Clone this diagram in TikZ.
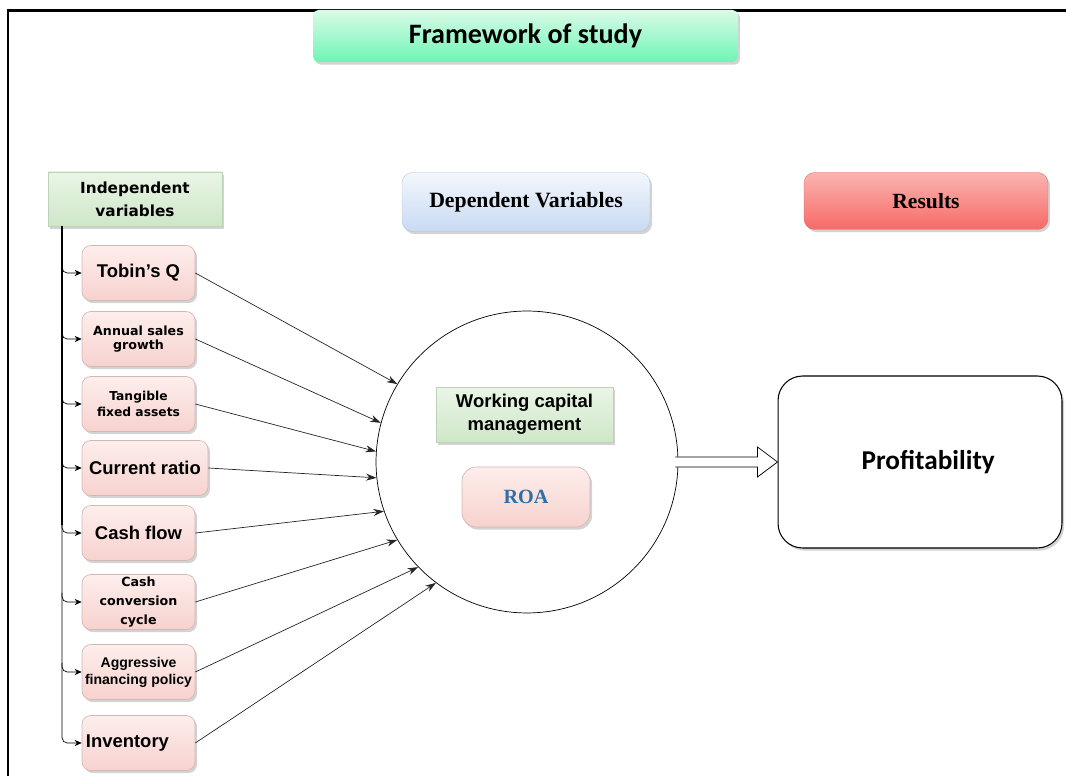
\documentclass[tikz,border=0pt]{standalone}
\usepackage{fontspec}
\setmainfont{Liberation Serif}
\setsansfont{Liberation Sans}
\newfontfamily\calibfont{Carlito}
\newfontfamily\verdfont{DejaVu Sans}
\usepackage{tikz}
\usetikzlibrary{arrows.meta,calc,shadows}
\definecolor{pinkbot}{RGB}{247,210,206}
\definecolor{pinktop}{RGB}{253,238,236}
\definecolor{greenbot}{RGB}{206,231,200}
\definecolor{greentop}{RGB}{234,245,230}
\definecolor{titlebot}{RGB}{110,245,180}
\definecolor{titletop}{RGB}{218,251,232}
\definecolor{bluebot}{RGB}{200,218,242}
\definecolor{bluetop}{RGB}{243,247,253}
\definecolor{redbot}{RGB}{246,106,102}
\definecolor{redtop}{RGB}{251,180,177}
\definecolor{roablue}{RGB}{46,110,170}

\tikzset{
  softshadow/.style={drop shadow={shadow xshift=1.2pt,shadow yshift=-1.5pt,opacity=.35}},
  pinkbox/.style={softshadow,draw=pinkbot!70!gray,thin,rounded corners=5pt,
    top color=pinktop,bottom color=pinkbot,minimum width=2.26cm,minimum height=1.1cm,
    inner sep=0pt,align=center},
  bigtxt/.style={font=\sffamily\bfseries\fontsize{10.5}{12}\selectfont},
  smalltxt/.style={font=\verdfont\bfseries\fontsize{7}{9.5}\selectfont},
  headbox/.style={softshadow,inner sep=0pt,align=center},
  branch/.style={-{Stealth[length=4pt,width=3.5pt]},thin,rounded corners=3pt},
  link/.style={-{Stealth[length=6pt,width=4pt]},thin,black!85},
}

\begin{document}
\begin{tikzpicture}[x=0.02cm,y=-0.02cm]
        \useasboundingbox (0,0) rectangle (1066,776);
        %Frame
        \draw[line width=1.7pt] (8,800) -- (8,11) -- (1090,11);
        %Headers
        \node[headbox,rounded corners=3pt,top color=titletop,bottom color=titlebot,
          minimum width=8.5cm,minimum height=1.04cm,
          font=\calibfont\bfseries\fontsize{16}{18}\selectfont] (title) at (525.5,36) {Framework of study};
        \node[headbox,draw=greenbot!80!gray,very thin,top color=greentop,bottom color=greenbot,
          minimum width=3.48cm,minimum height=1.08cm,
          font=\verdfont\bfseries\fontsize{8.7}{13}\selectfont] (indep) at (135,199) {Independent\\variables};
        \node[headbox,draw=bluebot!70!gray,very thin,rounded corners=6pt,top color=bluetop,bottom color=bluebot,
          minimum width=4.96cm,minimum height=1.18cm,
          font=\rmfamily\bfseries\fontsize{12.4}{14}\selectfont] (dep) at (526,202) {Dependent Variables};
        \node[headbox,draw=redbot!80!gray,very thin,rounded corners=6pt,top color=redtop,bottom color=redbot,
          minimum width=4.88cm,minimum height=1.14cm,
          font=\rmfamily\bfseries\fontsize{12.3}{14}\selectfont] (res) at (926,201) {Results};
        %Independent variables
        \node[pinkbox,bigtxt] (tq) at (138.5,273) {Tobin's Q};
        \node[pinkbox,smalltxt,font=\verdfont\bfseries\fontsize{7.2}{7.8}\selectfont] (asg) at (138.5,339) {Annual sales\\growth};
        \node[pinkbox,smalltxt] (tfa) at (138.5,404) {Tangible\\fixed assets};
        \node[pinkbox,bigtxt,minimum width=2.52cm] (cr) at (145,468) {Current ratio};
        \node[pinkbox,bigtxt] (cf) at (138.5,533) {Cash flow};
        \node[pinkbox,smalltxt,font=\verdfont\bfseries\fontsize{7.2}{10.8}\selectfont] (ccc) at (138.5,602) {Cash\\conversion\\cycle};
        \node[pinkbox,font=\sffamily\bfseries\fontsize{8}{9.6}\selectfont] (afp) at (138.5,672) {Aggressive\\financing policy};
        \node[pinkbox,bigtxt] (inv) at (138.5,743) {Inventory\hspace{1.2em}};
        %Trunk
        \coordinate (trunk) at (62,226);
        \draw[line width=1.4pt] (trunk) -- (62,525);
        \draw[branch] (trunk) |- (inv.west);
        \foreach \n in {tq,asg,tfa,cr,cf,ccc,afp}
          \draw[branch] ($(\n.west -| trunk)+(0,-9)$) |- (\n.west);
        %Dependent variables
        \node[circle,draw,thin,minimum size=6.04cm,inner sep=0pt] (wcm) at (527,462) {};
        \node[headbox,draw=greenbot!80!gray,very thin,top color=greentop,bottom color=greenbot,
          minimum width=3.54cm,minimum height=1.1cm,
          font=\sffamily\bfseries\fontsize{10.5}{13}\selectfont] (wc) at (524.5,414.5) {Working capital\\management};
        \node[pinkbox,rounded corners=8pt,minimum width=2.56cm,minimum height=1.2cm,
          font=\rmfamily\bfseries\fontsize{11.5}{13}\selectfont,text=roablue] (roa) at (526,497) {ROA};
        %Links
        \foreach \n/\a in {tq/149,asg/165,tfa/176.5,cr/186.5,cf/199,ccc/211,afp/224,inv/233}
          \draw[link] (\n.east) -- (wcm.\a);
        %Results
        \node[softshadow,draw,semithick,rounded corners=14pt,fill=white,
          minimum width=5.68cm,minimum height=3.44cm,inner sep=0pt,
          font=\calibfont\bfseries\fontsize{15.5}{18}\selectfont] (prof) at (920,462) {\hspace{0.6em}Profitability};
        \coordinate (tail) at ($(prof.west -| wcm.east)+(-3,0)$);
        \draw[fill=white,thin] ($(tail)+(0,-5)$) -- ($(prof.west)+(-20,-5)$) -- ($(prof.west)+(-20,-15)$)
          -- (prof.west) -- ($(prof.west)+(-20,15)$) -- ($(prof.west)+(-20,5)$) -- ($(tail)+(0,5)$);
\end{tikzpicture}
\end{document}
